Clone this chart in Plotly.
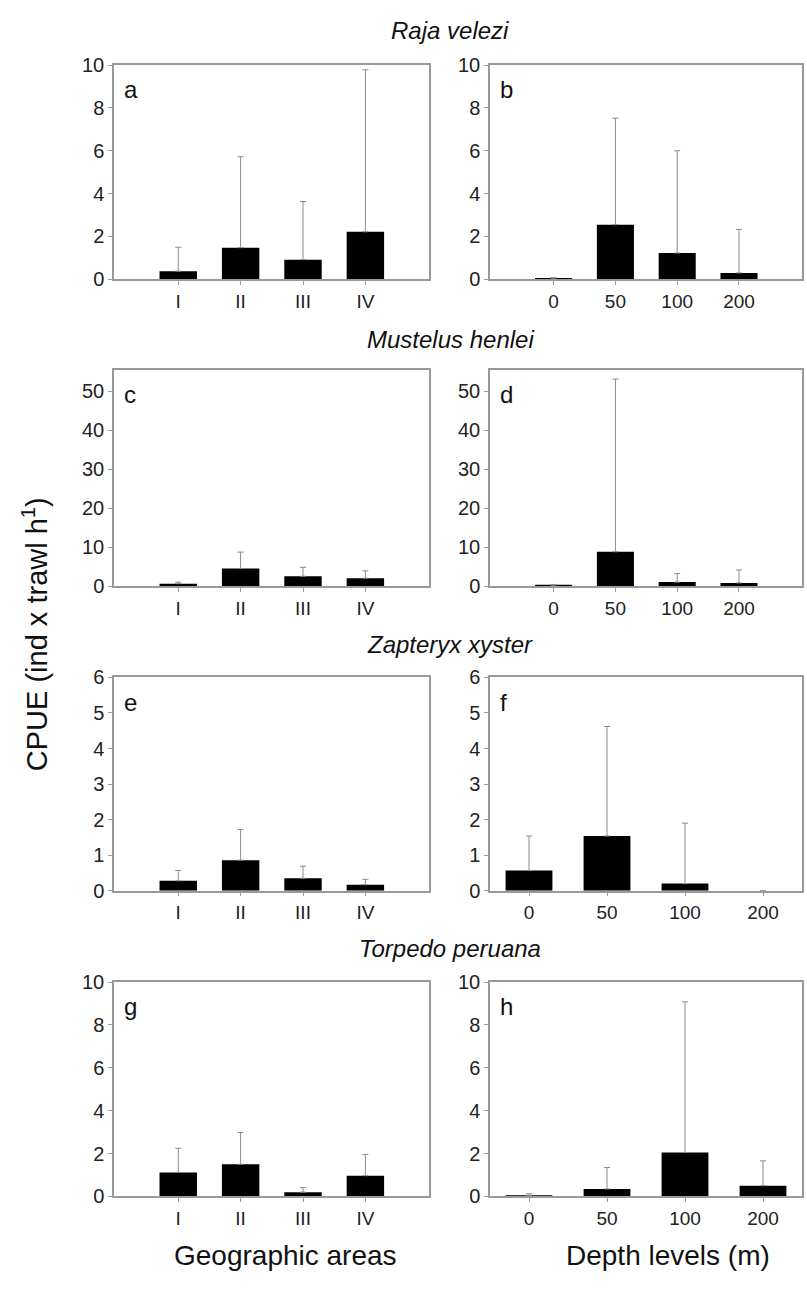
import plotly.graph_objects as go

# Categories
geo_areas = ["I", "II", "III", "IV"]
depth_levels = ["0", "50", "100", "200"]

species = ["Raja velezi", "Mustelus henlei", "Zapteryx xyster", "Torpedo peruana"]
panel_letters = [["a", "b"], ["c", "d"], ["e", "f"], ["g", "h"]]

# Mean CPUE and standard deviation, by geographic area
raja_geo = [0.38, 1.48, 0.92, 2.22]
raja_geo_sd = [1.12, 4.24, 2.71, 7.56]
mustelus_geo = [0.6, 4.5, 2.5, 2.0]
mustelus_geo_sd = [0.4, 4.2, 2.3, 1.9]
zapteryx_geo = [0.28, 0.86, 0.35, 0.17]
zapteryx_geo_sd = [0.29, 0.86, 0.34, 0.15]
torpedo_geo = [1.12, 1.5, 0.2, 0.97]
torpedo_geo_sd = [1.13, 1.48, 0.21, 0.99]

# Mean CPUE and standard deviation, by depth level
raja_depth = [0.02, 2.55, 1.23, 0.3]
raja_depth_sd = [0.06, 4.97, 4.77, 2.03]
mustelus_depth = [0.2, 8.8, 1.0, 0.8]
mustelus_depth_sd = [0.2, 44.3, 2.2, 3.3]
zapteryx_depth = [0.57, 1.54, 0.2, 0.0]
zapteryx_depth_sd = [0.97, 3.08, 1.7, 0.0]
torpedo_depth = [0.05, 0.35, 2.05, 0.5]
torpedo_depth_sd = [0.07, 1.0, 7.03, 1.16]

# y-axis scales per species row
y_max = [10, 55.5, 6, 10]
y_dtick = [2, 10, 1, 2]

rows = [
    ((raja_geo, raja_geo_sd), (raja_depth, raja_depth_sd)),
    ((mustelus_geo, mustelus_geo_sd), (mustelus_depth, mustelus_depth_sd)),
    ((zapteryx_geo, zapteryx_geo_sd), (zapteryx_depth, zapteryx_depth_sd)),
    ((torpedo_geo, torpedo_geo_sd), (torpedo_depth, torpedo_depth_sd)),
]

W, H = 807, 1289
row_px = [(55, 273), (365, 585), (678, 895), (988, 1206)]
col_px = [(114, 429), (490, 802)]
# x ranges: the depth panels of rows 3 and 4 spread their bars across the box
x_ranges = [
    [[-1.03, 4.02], [-1.03, 4.02]],
    [[-1.03, 4.02], [-1.03, 4.02]],
    [[-1.03, 4.02], [-0.5, 3.5]],
    [[-1.03, 4.02], [-0.5, 3.5]],
]

FONT = "Liberation Sans, Arial, sans-serif"
LINE = "#9a9a9a"

fig = go.Figure()
annotations = []

n = 0
for r in range(4):
    for c in range(2):
        n += 1
        xa = "x" if n == 1 else f"x{n}"
        ya = "y" if n == 1 else f"y{n}"
        vals, sd = rows[r][c]
        cats = geo_areas if c == 0 else depth_levels
        fig.add_trace(go.Bar(
            x=cats, y=vals, xaxis=xa, yaxis=ya,
            width=0.6, marker=dict(color="black", line=dict(width=0)),
            error_y=dict(type="data", symmetric=False, array=sd,
                         arrayminus=[0] * len(sd), color="#8c8c8c",
                         thickness=1, width=3),
            showlegend=False,
        ))
        top, bot = row_px[r]
        left, right = col_px[c]
        fig.layout[f"xaxis{'' if n == 1 else n}"] = dict(
            domain=[left / W, right / W], anchor=ya, type="category",
            range=x_ranges[r][c], showline=True, mirror=True,
            linecolor=LINE, linewidth=1.5, ticks="outside", ticklen=4,
            tickcolor=LINE, showgrid=False, zeroline=False,
            tickfont=dict(family=FONT, size=19, color="#222"),
        )
        fig.layout[f"yaxis{'' if n == 1 else n}"] = dict(
            domain=[1 - bot / H, 1 - top / H], anchor=xa,
            range=[0, y_max[r]], dtick=y_dtick[r], tick0=0,
            showline=True, mirror=True, linecolor=LINE, linewidth=1.5,
            ticks="outside", ticklen=4, tickcolor=LINE, showgrid=False,
            zeroline=False, tickfont=dict(family=FONT, size=20, color="#222"),
        )
        annotations.append(dict(
            x=(left + 8) / W, y=1 - (top + 25) / H, xref="paper", yref="paper",
            text=panel_letters[r][c], showarrow=False, xanchor="left",
            yanchor="middle", font=dict(family=FONT, size=24, color="#111"),
        ))

title_y = [20, 334, 645, 954]
for name, ty in zip(species, title_y):
    annotations.append(dict(
        x=450 / W, y=1 - ty / H, xref="paper", yref="paper",
        text=f"<i>{name}</i>", showarrow=False, xanchor="center",
        yanchor="middle", font=dict(family=FONT, size=24, color="#111"),
    ))

annotations += [
    dict(x=285 / W, y=1 - 1266 / H, xref="paper", yref="paper",
         text="Geographic areas", showarrow=False, xanchor="center",
         yanchor="middle", font=dict(family=FONT, size=28, color="#111")),
    dict(x=668 / W, y=1 - 1266 / H, xref="paper", yref="paper",
         text="Depth levels (m)", showarrow=False, xanchor="center",
         yanchor="middle", font=dict(family=FONT, size=28, color="#111")),
    dict(x=35 / W, y=1 - 634 / H, xref="paper", yref="paper",
         text="CPUE (ind x trawl h<sup>1</sup>)", showarrow=False,
         textangle=-90, xanchor="center", yanchor="middle",
         font=dict(family=FONT, size=29, color="#111")),
]

fig.update_layout(
    width=W, height=H, margin=dict(l=0, r=0, t=0, b=0),
    paper_bgcolor="white", plot_bgcolor="white",
    annotations=annotations, bargap=0.4,
)

fig.write_html("out.html")
